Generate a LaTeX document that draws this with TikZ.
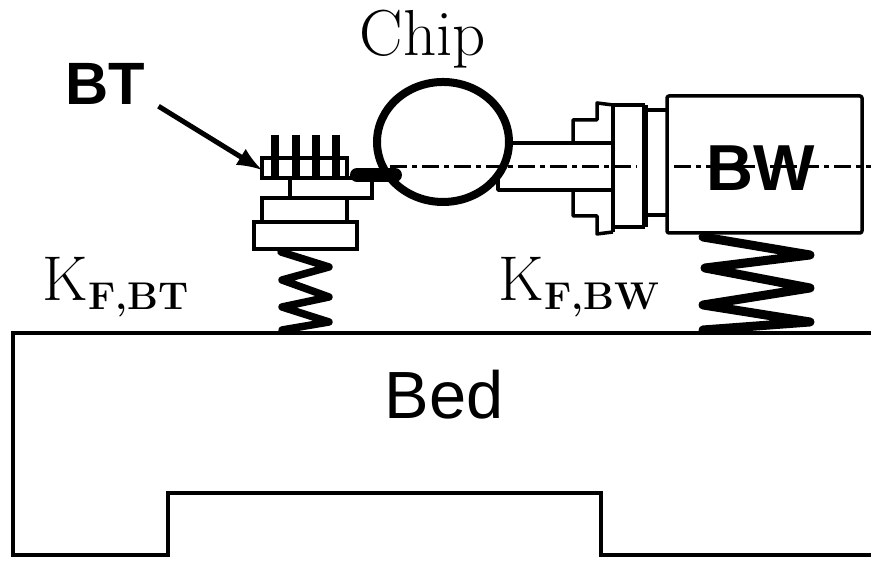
\documentclass[tikz,border=0pt]{standalone}
\usepackage{amsmath}
\usepackage{fontspec}
\newfontfamily\arialfont{Liberation Sans}

\tikzset{
    thinline/.style={black,line width=0.035cm},
    chuckline/.style={black,line width=0.035cm,line join=round},
    springline/.style={black,line join=round,line cap=round},
    axisline/.style={black,line width=0.03cm,dash pattern=on 0.17cm off 0.05cm on 0.05cm off 0.05cm},
}

\begin{document}
\begin{tikzpicture}[scale=1]
\useasboundingbox (0,0) rectangle (8.71,5.61);

% bed
\draw[thinline] (8.71,2.28) -- (0.13,2.28) -- (0.13,0.06) -- (1.68,0.06) -- (1.68,0.68) -- (6.01,0.68) -- (6.01,0.06) -- (8.71,0.06);

% center line
\draw[axisline] (3.9,3.94) -- (6.37,3.94);
\draw[axisline] (6.74,3.94) -- (8.71,3.94);

% tool
\draw[thinline] (2.62,3.83) rectangle (3.47,4.03);
\foreach \x in {2.75,2.96,3.16,3.36} {
    \draw[black,line width=0.08cm] (\x,4.26) -- (\x,3.83);
}
\draw[thinline] (2.90,3.83) rectangle (3.72,3.63);
\draw[thinline] (2.62,3.63) rectangle (3.47,3.39);
\draw[thinline] (2.54,3.39) rectangle (3.57,3.12);
\draw[black,line width=0.14cm,line cap=round] (3.57,3.86) -- (3.95,3.86);

% spindle
\draw[chuckline] (5.10,4.18) -- (6.13,4.18);
\draw[chuckline] (4.98,3.90) -- (4.98,3.71) -- (6.13,3.71);
\draw[chuckline] (5.73,4.18) -- (5.73,4.41) -- (5.97,4.41) -- (5.97,4.58) -- (6.13,4.56);
\draw[chuckline] (5.73,3.71) -- (5.73,3.45) -- (5.97,3.45) -- (5.97,3.27) -- (6.13,3.29);
\draw[chuckline] (6.13,4.56) -- (6.13,3.29);
\draw[chuckline] (6.13,4.56) -- (6.45,4.56);
\draw[chuckline] (6.13,3.34) -- (6.45,3.34);
\draw[black,line width=0.055cm] (6.45,4.56) -- (6.45,3.34);
\draw[chuckline] (6.45,4.51) -- (6.67,4.51);
\draw[chuckline] (6.45,3.46) -- (6.67,3.46);
\draw[chuckline,rounded corners=0.02cm] (6.67,4.65) rectangle (8.62,3.28);

% chip
\draw[black,line width=0.08cm] (4.43,4.19) ellipse (0.66 and 0.60);

% springs
\draw[springline,line width=0.075cm] (2.81,3.09) -- (3.29,2.94) -- (2.82,2.81) -- (3.29,2.64) -- (2.82,2.54) -- (3.29,2.39) -- (2.82,2.31);
\draw[springline,line width=0.09cm] (7.03,3.24) -- (8.10,3.06) -- (7.05,2.93) -- (8.10,2.73) -- (7.03,2.56) -- (8.10,2.39) -- (7.03,2.31);

% labels
\node (chip) at (4.23,5.22) {\fontsize{18.5}{22}\selectfont Chip};
\node[inner sep=0pt] (BT) at (1.05,4.77) {\arialfont\bfseries\fontsize{17}{20}\selectfont BT};
\node[inner sep=0pt] (BW) at (7.61,3.93) {\arialfont\bfseries\fontsize{18.5}{22}\selectfont BW};
\node (bed) at (4.44,1.66) {\arialfont\fontsize{19}{23}\selectfont Bed};
\node (KBT) at (1.16,2.74) {\fontsize{18}{21}\selectfont K\raisebox{-2.5pt}{\fontsize{11}{12}\selectfont\bfseries F,BT}};
\node (KBW) at (5.79,2.74) {\fontsize{18}{21}\selectfont K\raisebox{-2.5pt}{\fontsize{11}{12}\selectfont\bfseries F,BW}};

\coordinate (tooltip) at (2.62,3.91);
\draw[black,line width=0.05cm] [-latex] (BT.south east) ++(0.13,-0.01) -- (tooltip);

\end{tikzpicture}
\end{document}
